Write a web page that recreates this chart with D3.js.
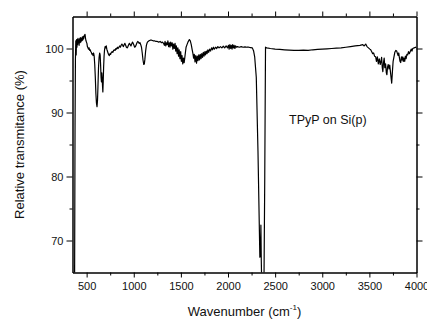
<!DOCTYPE html>
<html><head><meta charset="utf-8">
<script src="https://cdn.jsdelivr.net/npm/d3@7"></script>
<style>
body{margin:0;background:#fff}
text{font-family:"Liberation Sans",Arial,sans-serif;fill:#111}
</style>
</head><body>
<svg id="chart" width="427" height="320"></svg>
<script>
// Wavenumber (cm^-1)
const wavenumber = [
350,362,372,377,381,385,389,393,397,400,404,408,412,416,420,424,428,433,438,443,448,453,458,463,468,473,478,483,488,493,498,
503,508,514,520,526,532,538,544,550,556,562,568,574,580,586,592,598,604,610,615,620,626,632,638,643,648,653,657,661,665,669,672,676,680,685,690,696,
702,708,714,720,727,734,741,748,755,762,770,778,786,794,802,810,818,826,834,842,850,858,866,874,882,890,898,906,914,922,930,938,946,954,962,970,978,986,994,
1002,1010,1018,1026,1034,1042,1050,1058,1066,1074,1082,1090,1098,1106,1112,1118,1126,1134,1142,1152,1162,1175,1190,1205,1220,1235,1250,1265,1280,1295,1305,1316,
1325,1332,1340,1347,1355,1362,1370,1378,1385,1392,1400,1408,1415,1422,1430,1438,1445,1452,1460,1468,1475,1482,1490,1498,
1505,1512,1520,1528,1535,1545,1555,1565,1575,1590,1600,1610,1620,1628,1635,1642,1650,1658,1666,1674,1682,1690,1698,
1706,1714,1722,1730,1738,1746,1755,1762,1770,1778,1786,1795,1805,1815,1825,1835,1845,1855,1868,1880,1892,1905,1920,1935,1950,1965,1980,1995,
2005,2012,2020,2028,2035,2043,2050,2058,2065,2073,2080,2090,2100,2120,2140,2160,2180,2200,2220,2240,2258,2272,2283,2300,2318,2338,2344,2349,2353,2358,2363,2380,2390,2398,
2410,2450,2500,2550,2600,2650,2700,2750,2800,2850,2900,2950,3000,3050,3100,3150,3200,3250,3300,3350,3400,3430,3445,3461,3475,3490,
3505,3514,3525,3535,3545,3555,3567,3575,3585,3595,3605,3615,3622,3630,3637,3643,3650,3657,3664,3672,3680,3686,3692,3700,3708,3716,3724,3732,3737,3745,3752,3760,3770,3780,3790,3798,
3805,3812,3818,3825,3832,3840,3847,3854,3860,3867,3875,3882,3890,3898,3907,3915,3925,3938,3945,3952,3960,3975,3990,4000
];
// Relative transmittance (%)
const transmittance = [
55,58,63,88,98.3,101.2,99.0,101.4,100.2,101.4,100.6,101.6,100.9,101.3,100.5,101.5,100.9,101.7,101.0,101.6,101.2,101.8,101.3,101.9,101.5,101.9,102.1,102.2,101.6,101.2,101.0,
100.8,100.3,100.1,99.9,100.1,99.7,99.8,99.5,99.4,99.1,99.2,98.9,99.3,98.8,97.5,95.5,93.0,91.5,90.9,91.8,94.0,97.0,98.6,99.3,99.0,97.5,95.5,94.8,96.2,95.3,94.0,93.2,94.8,97.0,98.8,99.8,100.3,
100.1,100.4,99.9,99.6,99.3,99.0,98.9,99.2,99.1,99.4,99.5,99.4,99.7,99.8,99.7,100.0,99.9,100.2,100.0,100.2,100.4,100.2,100.5,100.7,100.5,100.3,100.6,100.8,100.5,100.2,100.1,100.3,100.6,100.8,100.6,100.4,100.7,101.0,100.8,
100.5,100.2,100.3,100.6,100.9,101.1,101.0,100.8,100.9,100.6,100.2,99.3,98.2,97.5,97.6,98.3,99.6,100.5,100.9,101.1,101.2,101.3,101.3,101.2,101.2,101.1,101.1,101.0,101.1,100.9,101.0,100.8,
100.5,101.1,100.4,100.9,100.6,101.2,100.3,100.9,100.2,101.0,100.4,100.9,99.9,100.7,100.0,100.8,99.6,100.4,99.2,100.1,98.8,99.8,98.4,99.5,
98.0,98.9,97.6,98.5,97.8,99.0,100.2,100.6,101.0,101.4,101.2,100.6,99.8,99.2,98.5,99.1,97.9,98.9,97.7,98.8,98.1,99.0,98.2,
99.1,98.4,99.2,98.6,99.4,98.8,99.5,99.0,99.6,99.2,99.8,99.4,99.9,99.6,100.1,99.8,100.2,99.9,100.2,100.0,100.3,100.1,100.3,100.1,100.35,100.1,100.4,100.1,
100.5,99.9,100.6,100.0,100.5,99.9,100.6,100.1,100.5,100.0,100.4,100.2,100.3,100.2,100.3,100.2,100.25,100.2,100.2,100.15,100.1,99.6,98.7,95.5,84.0,67.4,67.6,72.4,67.0,63.0,60.0,60.0,80.0,100.2,
100.1,100.0,99.9,99.85,99.8,99.75,99.7,99.7,99.75,99.7,99.8,99.85,99.9,99.95,100.0,100.05,100.1,100.2,100.3,100.4,100.5,100.6,100.4,100.7,100.3,100.1,
99.9,99.8,99.5,99.2,99.3,98.8,98.7,98.0,98.7,97.6,98.4,97.5,97.9,98.6,97.0,96.4,97.8,98.5,97.0,97.6,96.2,95.9,97.0,97.5,96.8,97.4,96.3,95.2,94.6,96.5,98.0,98.6,99.4,99.7,99.6,99.2,
98.9,99.3,98.6,98.0,97.8,98.7,98.2,98.7,98.0,98.5,98.0,98.8,98.4,99.1,99.0,99.5,99.2,99.7,99.9,99.6,100.0,100.1,100.2,100.1
];
const xMajorTicks = [500,1000,1500,2000,2500,3000,3500,4000];
const xMinorTicks = [750,1250,1750,2250,2750,3250,3750];
const yMajorTicks = [70,80,90,100];
const yMinorTicks = [75,85,95];
const xDomain = [350,4000];
const yDomain = [65,105];
const yLabel = "Relative transmitance (%)";
const xLabelMain = "Wavenumber (cm";
const xLabelSup = "-1";
const annotation = "TPyP on Si(p)";

const svg = d3.select("#chart");
const L = 72.5, R = 416.5, T = 16.5, B = 272.5;
const x = d3.scaleLinear().domain(xDomain).range([L, R]);
const y = d3.scaleLinear().domain(yDomain).range([B, T]);

svg.append("clipPath").attr("id","clip").append("rect")
  .attr("x",L).attr("y",T).attr("width",R-L).attr("height",B-T);

const data = wavenumber.map((w,i)=>({w, t: transmittance[i]}));
svg.append("path").datum(data)
  .attr("clip-path","url(#clip)")
  .attr("fill","none").attr("stroke","#000").attr("stroke-width",1.2)
  .attr("stroke-linejoin","round")
  .attr("d", d3.line().x(d=>x(d.w)).y(d=>y(d.t)));

function styleAxis(g){
  g.selectAll(".domain").attr("stroke","#000");
  g.selectAll(".tick line").attr("stroke","#000");
  g.selectAll(".tick text").attr("font-size",11).attr("fill","#111")
   .attr("font-family",'"Liberation Sans",Arial,sans-serif');
}
// bottom
svg.append("g").attr("transform",`translate(0,${B})`)
  .call(d3.axisBottom(x).tickValues(xMajorTicks).tickSize(5).tickSizeOuter(0).tickPadding(5).tickFormat(d3.format("d")))
  .call(styleAxis);
svg.append("g").attr("transform",`translate(0,${B})`)
  .call(d3.axisBottom(x).tickValues(xMinorTicks).tickSize(3).tickSizeOuter(0).tickFormat(""))
  .call(styleAxis);
// top
svg.append("g").attr("transform",`translate(0,${T})`)
  .call(d3.axisTop(x).tickValues(xMajorTicks).tickSize(5).tickSizeOuter(0).tickFormat(""))
  .call(styleAxis);
svg.append("g").attr("transform",`translate(0,${T})`)
  .call(d3.axisTop(x).tickValues(xMinorTicks).tickSize(3).tickSizeOuter(0).tickFormat(""))
  .call(styleAxis);
// left
svg.append("g").attr("transform",`translate(${L},0)`)
  .call(d3.axisLeft(y).tickValues(yMajorTicks).tickSize(6).tickSizeOuter(0).tickPadding(3).tickFormat(d3.format("d")))
  .call(styleAxis);
svg.append("g").attr("transform",`translate(${L},0)`)
  .call(d3.axisLeft(y).tickValues(yMinorTicks).tickSize(3).tickSizeOuter(0).tickFormat(""))
  .call(styleAxis);
// right
svg.append("g").attr("transform",`translate(${R},0)`)
  .call(d3.axisRight(y).tickValues(yMajorTicks).tickSize(6).tickSizeOuter(0).tickFormat(""))
  .call(styleAxis);
svg.append("g").attr("transform",`translate(${R},0)`)
  .call(d3.axisRight(y).tickValues(yMinorTicks).tickSize(3).tickSizeOuter(0).tickFormat(""))
  .call(styleAxis);

// labels
svg.append("text").attr("transform",`translate(24,${(T+B)/2}) rotate(-90)`)
  .attr("text-anchor","middle").attr("font-size",13).text(yLabel);
const xl = svg.append("text").attr("x",(L+R)/2).attr("y",316)
  .attr("text-anchor","middle").attr("font-size",13);
xl.append("tspan").text(xLabelMain);
xl.append("tspan").attr("font-size",8).attr("dy",-6).text(xLabelSup);
xl.append("tspan").attr("dy",6).text(")");

svg.append("text").attr("x",289).attr("y",124).attr("font-size",12.5).text(annotation);
</script>
</body></html>
